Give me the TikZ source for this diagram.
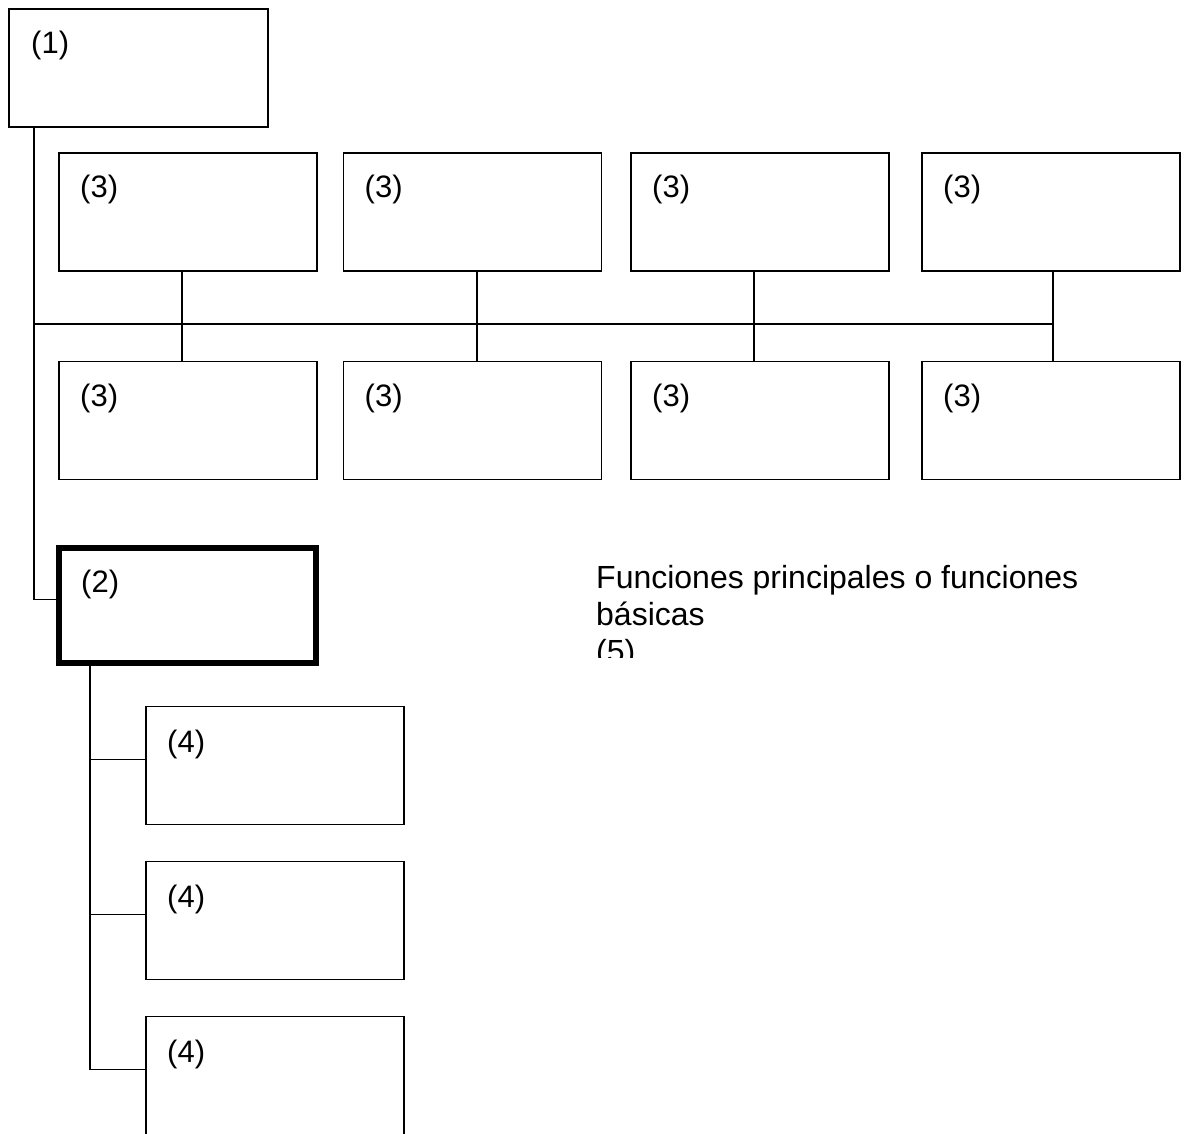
\documentclass[tikz,border=0pt]{standalone}
\usepackage{fontspec}
\setmainfont{Liberation Sans}
\usetikzlibrary{positioning}

\begin{document}
\begin{tikzpicture}[x=1pt, y=-1pt,
box/.style={rectangle, draw=black, line width=1.6pt, outer sep=0pt, inner sep=0pt, minimum width=258pt, minimum height=118pt},
boldbox/.style={box, line width=6pt, minimum width=257pt, minimum height=115pt},
tag/.style={inner sep=0pt, font=\fontsize{31}{36}\selectfont},
note/.style={anchor=north west, inner sep=0pt, align=left, font=\fontsize{32}{37}\selectfont},
link/.style={line width=1.6pt}
]
\clip (0,0) rectangle (1186,1133);
% Top box and its label
\node[box, minimum width=259pt] (top) at (138.5,68) {};
\node[tag, below right=22pt and 22pt of top.north west] (top-tag) {(1)};
% Two rows of four boxes
\foreach \i/\x/\dx in {1/188/-6,2/472.5/4.5,3/760/-6,4/1051/2} {
  \node[box] (up\i) at (\x,212) {};
  \node[tag, below right=22pt and 21pt of up\i.north west] (up\i-tag) {(3)};
  \node[box] (low\i) at (\x,420.5) {};
  \node[tag, below right=22pt and 21pt of low\i.north west] (low\i-tag) {(3)};
  \draw[link] ([xshift=\dx pt]up\i.south) -- ([xshift=\dx pt]low\i.north);
}
% Bold box and the column below it
\node[boldbox] (main) at (187.5,605.5) {};
\node[tag, below right=22pt and 22pt of main.north west] (main-tag) {(2)};
\foreach \i/\y in {1/765.5,2/920.5,3/1075.5} {
  \node[box] (sub\i) at (275,\y) {};
  \node[tag, below right=23pt and 21pt of sub\i.north west] (sub\i-tag) {(4)};
}
% Connectors
\coordinate[xshift=25pt] (spine-top) at (top.south west);
\draw[link] (spine-top) |- ([yshift=6pt]main.west);
\path (spine-top) ++(0,197) coordinate (bus-start);
\coordinate[xshift=2pt] (bus-end) at (up4.south);
\draw[link] (bus-start) -- (bus-start -| bus-end);
\coordinate[xshift=31pt] (branch-top) at (main.south west);
\foreach \i in {1,2,3}
  \draw[link] ([yshift=6pt]sub\i.west) -| (branch-top);
% Caption, cut off at the bottom
\begin{scope}
\clip (560,540) rectangle (1186,657);
\node[note] (caption) at (596,565) {Funciones principales o funciones\\básicas\\(5)};
\end{scope}
\end{tikzpicture}
\end{document}
